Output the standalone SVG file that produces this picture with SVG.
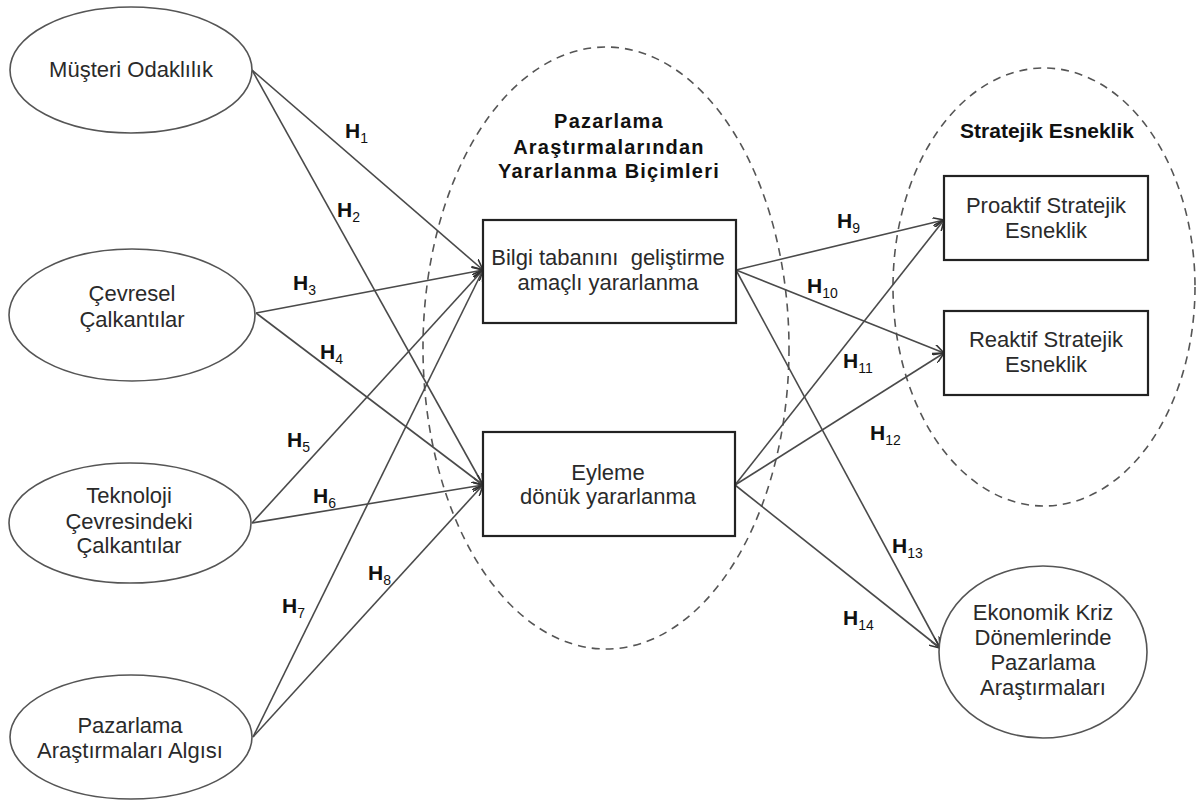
<svg xmlns="http://www.w3.org/2000/svg" width="1202" height="801" viewBox="0 0 1202 801">
  <style>
    .node { fill: #ffffff; stroke: #555555; stroke-width: 1.6; }
    .box { fill: #ffffff; stroke: #222222; stroke-width: 2.2; }
    .group { fill: none; stroke: #555555; stroke-width: 1.6; stroke-dasharray: 8 6; }
    .lbl { font-family: "Liberation Sans", Arial, sans-serif; font-size: 22px; fill: #2a2a2a; text-anchor: middle; }
    .ttl { font-family: "Liberation Sans", Arial, sans-serif; font-size: 20px; font-weight: bold; fill: #111111; text-anchor: middle; letter-spacing: 1.2px; }
    .ttl2 { font-family: "Liberation Sans", Arial, sans-serif; font-size: 21px; font-weight: bold; fill: #111111; text-anchor: middle; }
    .h { font-family: "Liberation Sans", Arial, sans-serif; font-size: 21px; font-weight: bold; fill: #111111; }
    .sub { font-size: 14px; font-weight: normal; }
    .edge { fill: none; stroke: #4a4a4a; stroke-width: 1.6; marker-end: url(#arrow); }
  </style>
  <defs>
    <marker id="arrow" viewBox="0 0 12 10" refX="11" refY="5" markerWidth="12" markerHeight="10" markerUnits="userSpaceOnUse" orient="auto">
      <path d="M0,0 L11,5 L0,10" fill="none" stroke="#333333" stroke-width="1.6"/>
    </marker>
  </defs>

  <rect x="0" y="0" width="1202" height="801" fill="#ffffff"/>

  <!-- grouping outlines -->
  <g id="group-yararlanma">
    <ellipse class="group" cx="606" cy="348" rx="183" ry="301"/>
    <text class="ttl" x="609" y="128">Pazarlama</text>
    <text class="ttl" x="609" y="154">Araştırmalarından</text>
    <text class="ttl" x="609" y="178">Yararlanma Biçimleri</text>
  </g>
  <g id="group-esneklik">
    <ellipse class="group" cx="1044" cy="287" rx="151" ry="219"/>
    <text class="ttl2" x="1047" y="138">Stratejik Esneklik</text>
  </g>

  <!-- connectors -->
  <g id="connectors">
    <line class="edge" x1="252" y1="70" x2="483" y2="270"/>
    <line class="edge" x1="252" y1="70" x2="483" y2="485"/>
    <line class="edge" x1="256" y1="313" x2="483" y2="270"/>
    <line class="edge" x1="256" y1="313" x2="483" y2="485"/>
    <line class="edge" x1="252" y1="523" x2="483" y2="270"/>
    <line class="edge" x1="252" y1="523" x2="483" y2="485"/>
    <line class="edge" x1="253" y1="737" x2="483" y2="270"/>
    <line class="edge" x1="253" y1="737" x2="483" y2="485"/>
    <line class="edge" x1="736" y1="270" x2="944" y2="220"/>
    <line class="edge" x1="736" y1="270" x2="944" y2="353"/>
    <line class="edge" x1="735" y1="485" x2="944" y2="220"/>
    <line class="edge" x1="735" y1="485" x2="944" y2="353"/>
    <line class="edge" x1="736" y1="270" x2="940" y2="648"/>
    <line class="edge" x1="735" y1="485" x2="940" y2="648"/>

    <text class="h" x="345" y="138">H<tspan class="sub" dy="5">1</tspan></text>
    <text class="h" x="337" y="217">H<tspan class="sub" dy="5">2</tspan></text>
    <text class="h" x="293" y="290">H<tspan class="sub" dy="5">3</tspan></text>
    <text class="h" x="320" y="359">H<tspan class="sub" dy="5">4</tspan></text>
    <text class="h" x="287" y="447">H<tspan class="sub" dy="5">5</tspan></text>
    <text class="h" x="313" y="503">H<tspan class="sub" dy="5">6</tspan></text>
    <text class="h" x="282" y="613">H<tspan class="sub" dy="5">7</tspan></text>
    <text class="h" x="368" y="580">H<tspan class="sub" dy="5">8</tspan></text>
    <text class="h" x="837" y="228">H<tspan class="sub" dy="5">9</tspan></text>
    <text class="h" x="807" y="293">H<tspan class="sub" dy="5">10</tspan></text>
    <text class="h" x="843" y="368">H<tspan class="sub" dy="5">11</tspan></text>
    <text class="h" x="870" y="440">H<tspan class="sub" dy="5">12</tspan></text>
    <text class="h" x="892" y="553">H<tspan class="sub" dy="5">13</tspan></text>
    <text class="h" x="843" y="625">H<tspan class="sub" dy="5">14</tspan></text>
  </g>

  <!-- antecedents -->
  <g id="musteri-odaklilik">
    <ellipse class="node" cx="131" cy="70" rx="121" ry="63"/>
    <text class="lbl" x="131" y="77">Müşteri Odaklılık</text>
  </g>
  <g id="cevresel-calkantilar">
    <ellipse class="node" cx="132" cy="315" rx="123" ry="66"/>
    <text class="lbl" x="132" y="301">Çevresel</text>
    <text class="lbl" x="132" y="327">Çalkantılar</text>
  </g>
  <g id="teknoloji-calkantilari">
    <ellipse class="node" cx="130" cy="523" rx="121" ry="60"/>
    <text class="lbl" x="129" y="503">Teknoloji</text>
    <text class="lbl" x="129" y="529">Çevresindeki</text>
    <text class="lbl" x="129" y="553">Çalkantılar</text>
  </g>
  <g id="arastirma-algisi">
    <ellipse class="node" cx="131" cy="737" rx="121" ry="62"/>
    <text class="lbl" x="130" y="733">Pazarlama</text>
    <text class="lbl" x="130" y="758">Araştırmaları Algısı</text>
  </g>

  <!-- usage types -->
  <g id="bilgi-tabani">
    <rect class="box" x="483" y="220" width="253" height="103"/>
    <text class="lbl" x="608" y="265" xml:space="preserve">Bilgi tabanını  geliştirme</text>
    <text class="lbl" x="608" y="290">amaçlı yararlanma</text>
  </g>
  <g id="eyleme-donuk">
    <rect class="box" x="483" y="432" width="252" height="104"/>
    <text class="lbl" x="608" y="480">Eyleme</text>
    <text class="lbl" x="608" y="504">dönük yararlanma</text>
  </g>

  <!-- outcomes -->
  <g id="proaktif">
    <rect class="box" x="944" y="176" width="204" height="84"/>
    <text class="lbl" x="1046" y="213">Proaktif Stratejik</text>
    <text class="lbl" x="1046" y="238">Esneklik</text>
  </g>
  <g id="reaktif">
    <rect class="box" x="944" y="311" width="204" height="84"/>
    <text class="lbl" x="1046" y="347">Reaktif Stratejik</text>
    <text class="lbl" x="1046" y="372">Esneklik</text>
  </g>
  <g id="ekonomik-kriz">
    <ellipse class="node" cx="1043" cy="652" rx="104" ry="86"/>
    <text class="lbl" x="1043" y="620">Ekonomik Kriz</text>
    <text class="lbl" x="1043" y="645">Dönemlerinde</text>
    <text class="lbl" x="1043" y="670">Pazarlama</text>
    <text class="lbl" x="1043" y="695">Araştırmaları</text>
  </g>
</svg>
